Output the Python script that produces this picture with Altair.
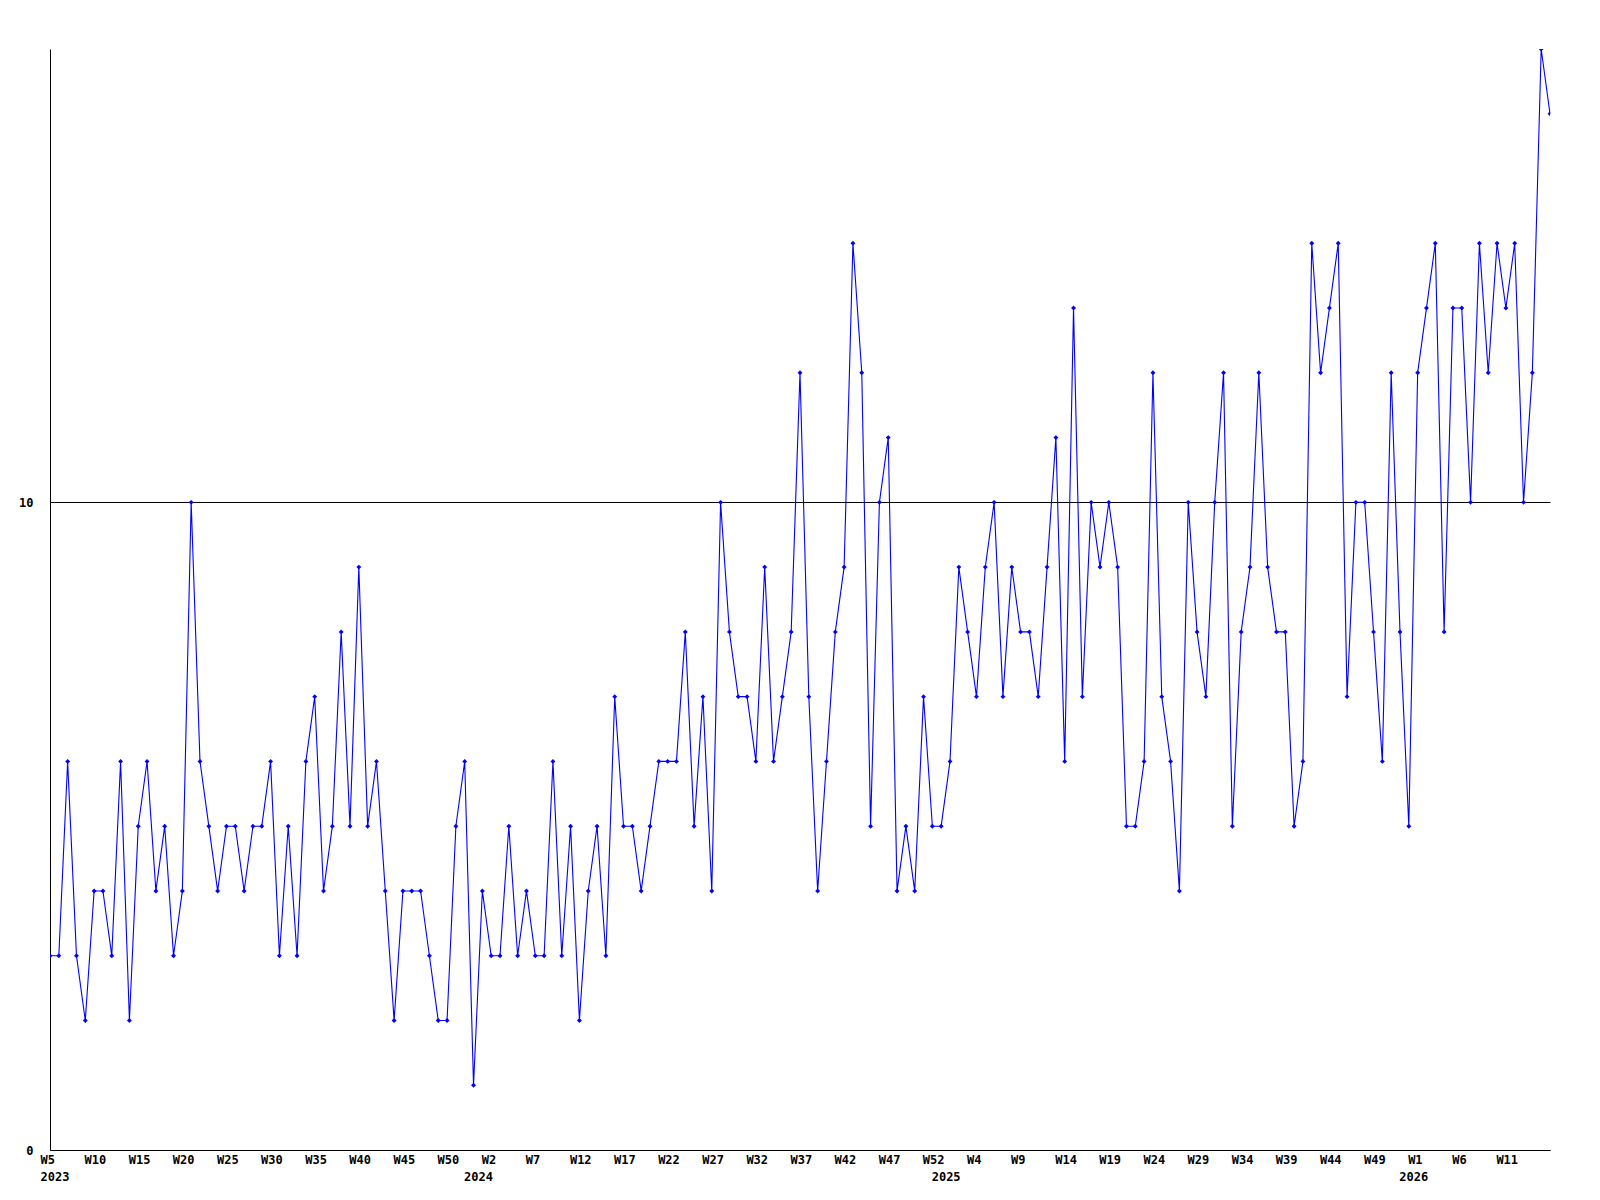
import json
import altair as alt
import pandas as pd

# ---- data -----------------------------------------------------------------
years = [2023, 2024, 2025, 2026]
first_week = [5, 0, 0, 0]
last_week = [52, 52, 52, 16]

values_2023 = [3, 3, 6, 3, 2, 4, 4, 3, 6, 2, 5, 6, 4, 5, 3, 4, 10, 6, 5, 4, 5, 5, 4, 5,
               5, 6, 3, 5, 3, 6, 7, 4, 5, 8, 5, 9, 5, 6, 4, 2, 4, 4, 4, 3, 2, 2, 5, 6]
values_2024 = [1, 4, 3, 3, 5, 3, 4, 3, 3, 6, 3, 5, 2, 4, 5, 3, 7, 5, 5, 4, 5, 6, 6, 6, 8, 5, 7,
               4, 10, 8, 7, 7, 6, 9, 6, 7, 8, 12, 7, 4, 6, 8, 9, 14, 12, 5, 10, 11, 4, 5, 4, 7, 5]
values_2025 = [5, 6, 9, 8, 7, 9, 10, 7, 9, 8, 8, 7, 9, 11, 6, 13, 7, 10, 9, 10, 9, 5, 5, 6, 12, 7,
               6, 4, 10, 8, 7, 10, 12, 5, 8, 9, 12, 9, 8, 8, 5, 6, 14, 12, 13, 14, 7, 10, 10, 8, 6, 12, 8]
values_2026 = [5, 12, 13, 14, 8, 13, 13, 10, 14, 12, 14, 13, 14, 10, 12, 17, 16]

y_ticks = [0, 10]

# week categories, in order
week_keys = []
for yr, w0, w1 in zip(years, first_week, last_week):
    week_keys += [f"{yr}-W{w:02d}" for w in range(w0, w1 + 1)]
values = values_2023 + values_2024 + values_2025 + values_2026

year_start_keys = [f"{yr}-W{w0:02d}" for yr, w0 in zip(years, first_week)]
tick_keys = week_keys[0:len(week_keys) - 1:5]
tick_keys = tick_keys + [k for k in year_start_keys if k not in tick_keys]

df = pd.DataFrame({"week": week_keys, "count": values})

WK = "toNumber(substring(datum.value, 6))"
YR = "substring(datum.value, 0, 4)"
label_expr = (
    "indexof(" + json.dumps(year_start_keys) + ", datum.value) >= 0"
    f" ? [({WK} == 0 ? '' : 'W' + {WK}), {YR}]"
    f" : 'W' + {WK}"
)

FONT = "DejaVu Sans Mono"

x_enc = alt.X(
    "week:O",
    scale=alt.Scale(type="point", domain=week_keys, padding=0),
    axis=alt.Axis(
        values=tick_keys,
        labelExpr=label_expr,
        title=None,
        ticks=False,
        grid=False,
        domainColor="black",
        domainWidth=1,
        labelAngle=0,
        labelAlign="left",
        labelOffset=-10,
        labelPadding=4,
        labelLineHeight=17,
        labelOverlap=False,
        labelBound=False,
        labelFont=FONT,
        labelFontWeight="bold",
        labelFontSize=12,
        labelColor="black",
    ),
)

y_enc = alt.Y(
    "count:Q",
    scale=alt.Scale(domain=[0, 17], nice=False, zero=True),
    axis=alt.Axis(
        values=y_ticks,
        title=None,
        ticks=False,
        grid=True,
        gridColor="black",
        gridOpacity=1,
        gridWidth=1,
        domainColor="black",
        domainWidth=1,
        labelPadding=17,
        labelFont=FONT,
        labelFontWeight="bold",
        labelFontSize=12,
        labelColor="black",
    ),
)

line = alt.Chart().mark_line(color="#0000ff", strokeWidth=1.1)
points = alt.Chart().mark_point(shape="diamond", filled=True, size=24, color="#0000ff", opacity=1, clip=True)

chart = (
    alt.layer(line, points, data=df)
    .encode(x=x_enc, y=y_enc)
    .properties(
        width=1500,
        height=1101,
        autosize=alt.AutoSizeParams(type="none"),
        padding={"left": 42, "top": 41, "right": 42, "bottom": 42},
        background="white",
    )
    .configure_view(stroke="transparent")
)

chart.save("out.html", embed_options={"renderer": "svg", "actions": False})
